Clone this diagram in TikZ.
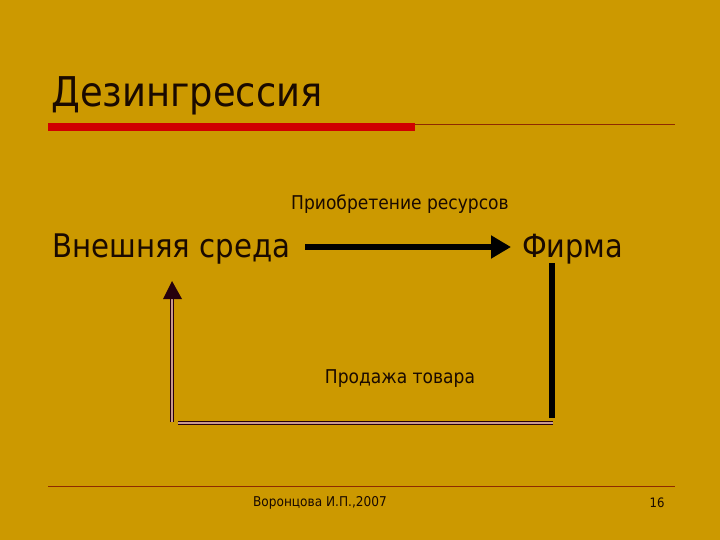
\documentclass[tikz,border=0pt]{standalone}
\usepackage{fontspec}
\setmainfont{DejaVu Sans Condensed}
\usetikzlibrary{arrows.meta}
\definecolor{bg}{HTML}{CC9900}
\definecolor{barred}{HTML}{D00000}
\definecolor{thinred}{HTML}{8E2A00}
\definecolor{txt}{HTML}{1A0A00}
\definecolor{dblin}{HTML}{C89A90}
\tikzset{
  lbl/.style={text=txt, inner sep=0pt, anchor=base west},
  dbl/.style={draw=black!80!purple, line width=1.5pt, double=dblin, double distance=1.5pt},
}
\begin{document}
\begin{tikzpicture}[x=1pt,y=-1pt]
\fill[bg] (0,0) rectangle (720,540);
\useasboundingbox (0,0) rectangle (720,540);
% title
\node[lbl, font=\fontsize{41}{46}\selectfont] (title) at (51,107) {Дезингрессия};
\fill[barred] (48,123) rectangle (415,131);
\draw[thinred, line width=0.8pt] (415,124) -- (675,124);
% footer
\draw[thinred, line width=0.8pt] (48,486) -- (675,486);
\node[text=txt, inner sep=0pt, font=\fontsize{13.5}{15}\selectfont] (author) at (320,503) {Воронцова И.П.,2007};
\node[text=txt, inner sep=0pt, font=\fontsize{13}{15}\selectfont] (page) at (657,503) {16};
% diagram
\node[lbl, font=\fontsize{32.5}{37}\selectfont] (ext) at (52,257) {Внешняя среда};
\node[lbl, font=\fontsize{32}{37}\selectfont] (firm) at (522,257) {Фирма};
\node[text=txt, inner sep=0pt, font=\fontsize{19}{22}\selectfont] (buy) at (400,204) {Приобретение ресурсов};
\node[text=txt, inner sep=0pt, font=\fontsize{19}{22}\selectfont] (sell) at (400,379) {Продажа товара};
\coordinate (a1) at (305,247);
\coordinate (a2) at (511,247);
\draw[line width=6pt, -{Triangle[length=20pt,width=22pt]}] (a1) -- (a2);
\coordinate (r1) at (552,263);
\coordinate (r2) at (552,418);
\draw[line width=5.5pt] (r1) -- (r2);
\coordinate (b1) at (553,423);
\coordinate (b2) at (178,423);
\draw[dbl] (b1) -- (b2);
\coordinate (l1) at (172,422);
\coordinate (l2) at (172,298);
\coordinate (l3) at (172,281);
\draw[dbl] (l1) -- (l2);
\fill[black!80!purple] (l3) -- (182,299) -- (163,299) -- cycle;
\end{tikzpicture}
\end{document}
